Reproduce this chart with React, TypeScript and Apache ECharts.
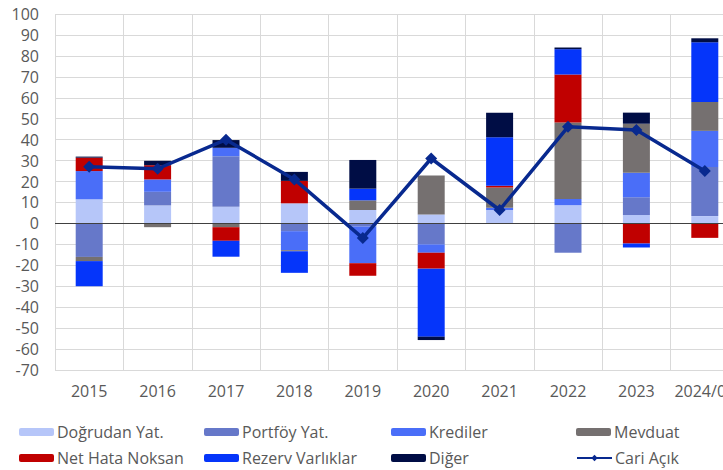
import React, { useEffect, useRef } from "react";
import * as echarts from "echarts";

const categories = ["2015", "2016", "2017", "2018", "2019", "2020", "2021", "2022", "2023", "2024/06"];
const dogrudan = [11.5, 8.6, 7.9, 9.6, 6.4, 4.3, 6.4, 8.7, 4.0, 3.5];
const portfoy = [-16, 6.5, 24.2, -3.7, -1.5, -10, 0, -14, 8.5, 23.4];
const krediler = [13.5, 5.9, 4.0, -9.1, -17.5, -4, 1.1, 3.0, 11.7, 17.3];
const mevduat = [-2, -1.8, -1.8, -0.5, 4.6, 18.6, 9.7, 36.5, 23.4, 13.8];
const netHata = [6.4, 6.8, -6.5, 10.7, -6, -7.6, 0.8, 22.9, -9.6, -6.9];
const rezerv = [-12, 0, -7.6, -10.3, 5.6, -32.5, 23.1, 12.1, -1.9, 28.5];
const diger = [0.5, 2.1, 3.7, 4.3, 13.7, -1.6, 11.7, 0.8, 5.3, 1.9];
const cariAcik = [27, 26.1, 40, 21, -7, 31, 6.4, 46.1, 44.6, 25];

const barSeries = [
  { name: "Doğrudan Yat.", data: dogrudan, color: "#b6c6f9" },
  { name: "Portföy Yat.", data: portfoy, color: "#6678c9" },
  { name: "Krediler", data: krediler, color: "#4a6ef8" },
  { name: "Mevduat", data: mevduat, color: "#757070" },
  { name: "Net Hata Noksan", data: netHata, color: "#c00000" },
  { name: "Rezerv Varlıklar", data: rezerv, color: "#0535fa" },
  { name: "Diğer", data: diger, color: "#000d45" },
];
const lineName = "Cari Açık";
const lineColor = "#08298f";

const legendOrder = [
  "Doğrudan Yat.", "Portföy Yat.", "Krediler", "Mevduat",
  "Net Hata Noksan", "Rezerv Varlıklar", "Diğer", "Cari Açık",
];

export default function App() {
  const ref = useRef<HTMLDivElement>(null);
  useEffect(() => {
    if (!ref.current) return;
    const chart = echarts.init(ref.current, undefined, { renderer: "svg" });
    const font = "'Open Sans', sans-serif";
    const colLefts = [19, 204, 391, 576];
    const rowTops = [424, 450];
    const legends = legendOrder.map((name, i) => ({
      data: [name],
      left: colLefts[i % 4],
      top: rowTops[Math.floor(i / 4)],
      itemWidth: 35,
      itemHeight: 8,
      itemGap: 0,
      padding: 0,
      textStyle: { fontFamily: font, fontSize: 16, color: "#595959", padding: [0, 0, 0, -2] },
      selectedMode: false,
    }));
    const series: any[] = barSeries.map((s, idx) => ({
      name: s.name,
      type: "bar",
      stack: "total",
      barWidth: 27,
      data: s.data,
      itemStyle: { color: s.color },
      emphasis: { disabled: true },
      ...(idx === 0
        ? {
            markLine: {
              silent: true,
              symbol: "none",
              label: { show: false },
              lineStyle: { color: "#404040", width: 1, type: "solid" },
              data: [{ yAxis: 0 }],
            },
          }
        : {}),
    }));
    series.push({
      name: lineName,
      type: "line",
      data: cariAcik,
      symbol: "diamond",
      symbolSize: 12,
      lineStyle: { color: lineColor, width: 3.5 },
      itemStyle: { color: lineColor },
      z: 10,
    });
    chart.setOption({
      animation: false,
      color: [...barSeries.map((s) => s.color), lineColor],
      grid: {
        left: 55,
        top: 14,
        width: 684,
        height: 356,
        containLabel: false,
        outerBoundsMode: "none",
      },
      legend: legends,
      xAxis: {
        type: "category",
        data: categories,
        axisLine: { show: false },
        axisTick: { show: false },
        axisLabel: { fontFamily: font, fontSize: 16, color: "#595959", margin: 13, interval: 0 },
        splitLine: { show: true, interval: 0, lineStyle: { color: "#d9d9d9", width: 1 } },
      },
      yAxis: {
        type: "value",
        min: -70,
        max: 100,
        interval: 10,
        axisLine: { show: false },
        axisTick: { show: false },
        axisLabel: { fontFamily: font, fontSize: 16, color: "#595959", margin: 16 },
        splitLine: { show: true, lineStyle: { color: "#d9d9d9", width: 1 } },
      },
      series,
    });
    return () => chart.dispose();
  }, []);
  return (
    <div
      ref={ref}
      style={{ position: "fixed", left: 0, top: 0, width: 723, height: 470, background: "#fff" }}
    />
  );
}
